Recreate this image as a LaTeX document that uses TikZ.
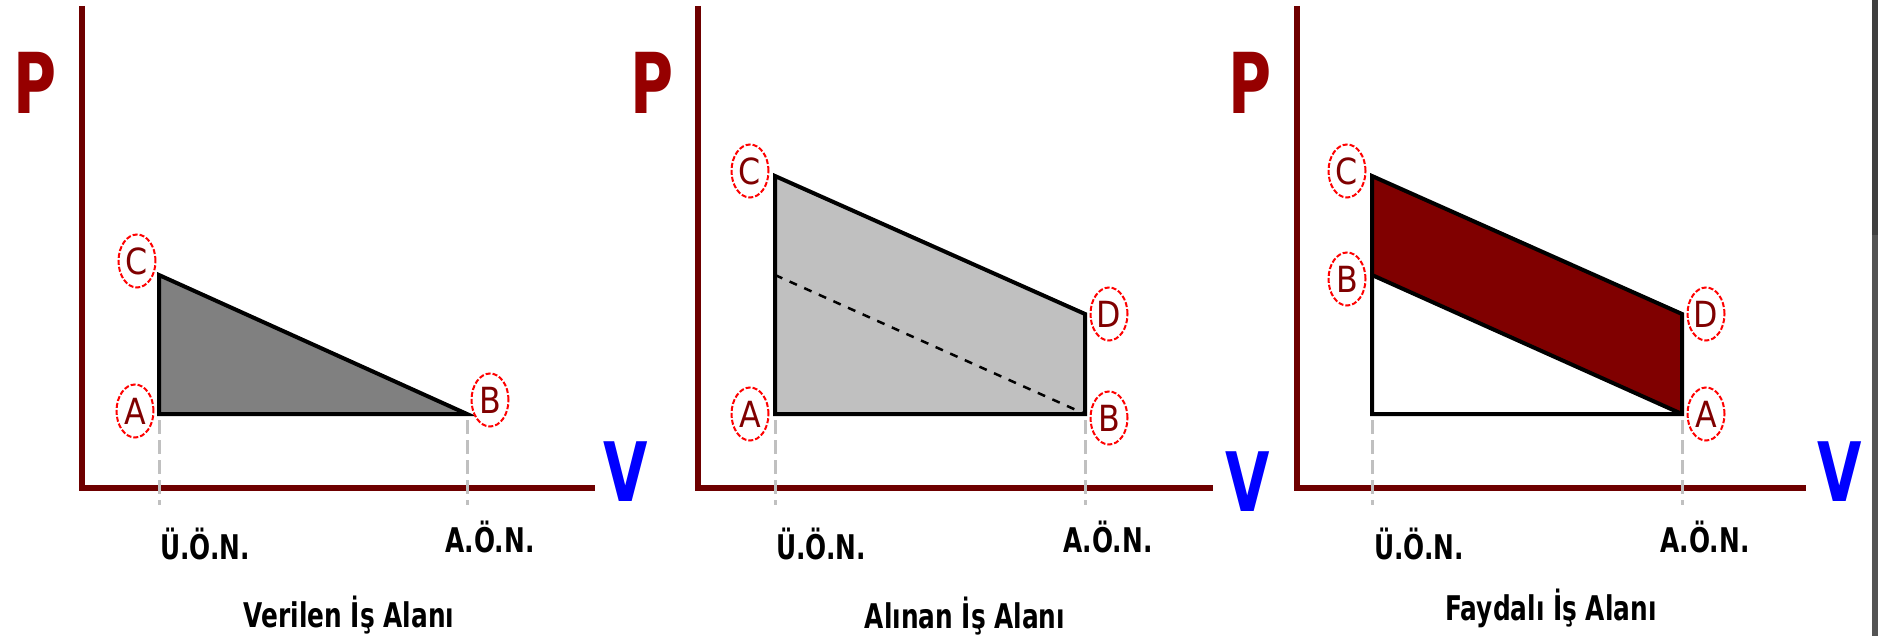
\documentclass[tikz,border=0pt]{standalone}
\usepackage{fontspec}
\setmainfont{DejaVu Sans}
\newfontfamily\axisfont[FakeStretch=0.70]{DejaVu Sans}
\newfontfamily\markfont[FakeStretch=0.88]{DejaVu Sans}
\newfontfamily\tickfont[FakeStretch=0.73]{DejaVu Sans}
\usetikzlibrary{shapes.geometric}
\definecolor{axred}{RGB}{110,0,0}
\definecolor{pred}{RGB}{150,0,0}
\definecolor{ptred}{RGB}{128,0,0}
\definecolor{guidegray}{RGB}{192,192,192}
\definecolor{areadark}{RGB}{128,128,128}
\definecolor{arealight}{RGB}{192,192,192}
\definecolor{areared}{RGB}{128,0,0}
\definecolor{bartop}{RGB}{64,64,64}
\definecolor{barlow}{RGB}{84,84,84}
\tikzset{
  % --- axes ------------------------------------------------------------------
  axis/.style={axred,line width=6pt},
  plab/.style={inner sep=0pt,text=pred,
               font=\axisfont\bfseries\fontsize{84}{84}\selectfont},
  vlab/.style={inner sep=0pt,text=blue,
               font=\axisfont\bfseries\fontsize{82}{82}\selectfont},
  % --- stroke positions (dead centres) ---------------------------------------
  guide/.style={guidegray,line width=3pt,dash pattern=on 14pt off 6pt},
  tick/.style={inner sep=0pt,anchor=base west,
               font=\tickfont\bfseries\fontsize{34}{34}\selectfont},
  title/.style={inner sep=0pt,anchor=base,
                font=\tickfont\bfseries\fontsize{34}{34}\selectfont},
  % --- work areas ------------------------------------------------------------
  area/.style={draw=black,line width=4pt},
  exhaust/.style={black,line width=2.5pt,dash pattern=on 8pt off 8pt},
  ptlab/.style={ellipse,draw=red,line width=2pt,dash pattern=on 5pt off 2pt,
                minimum width=37pt,minimum height=53pt,inner sep=0pt,text=ptred,
                font=\markfont\fontsize{36}{36}\selectfont},
}
\begin{document}
\begin{tikzpicture}[x=1pt, y=-1pt]
  \useasboundingbox (0,0) rectangle (1878,636);
  \fill[bartop] (1872,0)   rectangle (1878,235);
  \fill[barlow] (1872,235) rectangle (1878,636);

  % panel 1: Verilen
  \coordinate (a1) at (159,414);
  \coordinate (c1) at (159,275);
  \coordinate (b1) at (467,414);
  \filldraw[area,fill=areadark] (a1) -- (c1) -- (b1) -- cycle;
  \draw[axis] (82,6) -- (82,488) -- (595,488);
  \node[plab] (p1) at (35,83)   {P};
  \node[vlab] (v1) at (626,472) {V};
  \draw[guide] (a1) ++(0,6) -- ++(0,85);
  \draw[guide] (b1) ++(0,6) -- ++(0,85);
  \node[ptlab] (lc1) at (137,261) {C};
  \node[ptlab] (la1) at (135,411) {A};
  \node[ptlab] (lb1) at (490,400) {B};
  \node[tick]  (u1) at (160,559) {Ü.Ö.N.};
  \node[tick]  (o1) at (445,552) {A.Ö.N.};
  \node[title] (t1) at (349,627) {Verilen İş Alanı};

  % panel 2: Alınan
  \coordinate (a2) at (775,414);
  \coordinate (c2) at (775,176);
  \coordinate (d2) at (1085,314);
  \coordinate (b2) at (1085,414);
  \coordinate (m2) at (775,275);
  \filldraw[area,fill=arealight] (a2) -- (c2) -- (d2) -- (b2) -- cycle;
  \draw[exhaust] (m2) -- (b2);
  \draw[axis] (698,6) -- (698,488) -- (1213,488);
  \node[plab] (p2) at (652,83)   {P};
  \node[vlab] (v2) at (1248,482) {V};
  \draw[guide] (a2) ++(0,6) -- ++(0,85);
  \draw[guide] (b2) ++(0,6) -- ++(0,85);
  \node[ptlab] (lc2) at (750,171)  {C};
  \node[ptlab] (la2) at (750,414)  {A};
  \node[ptlab] (ld2) at (1109,314) {D};
  \node[ptlab] (lb2) at (1109,418) {B};
  \node[tick]  (u2) at (776,559)  {Ü.Ö.N.};
  \node[tick]  (o2) at (1063,552) {A.Ö.N.};
  \node[title] (t2) at (965,628)  {Alınan İş Alanı};

  % panel 3: Faydalı
  \coordinate (o3) at (1372,414);
  \coordinate (c3) at (1372,176);
  \coordinate (b3) at (1372,275);
  \coordinate (d3) at (1682,314);
  \coordinate (a3) at (1682,414);
  \fill[areared] (c3) -- (d3) -- (a3) -- (b3) -- cycle;
  \draw[area] (c3) -- (d3) -- (a3) -- (o3) -- cycle;
  \draw[area] (b3) -- (a3);
  \draw[axis] (1297,6) -- (1297,488) -- (1806,488);
  \node[plab] (p3) at (1250,83)  {P};
  \node[vlab] (v3) at (1840,472) {V};
  \draw[guide] (o3) ++(0,6) -- ++(0,85);
  \draw[guide] (a3) ++(0,6) -- ++(0,85);
  \node[ptlab] (lc3) at (1347,171) {C};
  \node[ptlab] (lb3) at (1347,279) {B};
  \node[ptlab] (ld3) at (1706,314) {D};
  \node[ptlab] (la3) at (1706,414) {A};
  \node[tick]  (u3) at (1374,559) {Ü.Ö.N.};
  \node[tick]  (e3) at (1660,552) {A.Ö.N.};
  \node[title] (t3) at (1551,620) {Faydalı İş Alanı};
\end{tikzpicture}
\end{document}
